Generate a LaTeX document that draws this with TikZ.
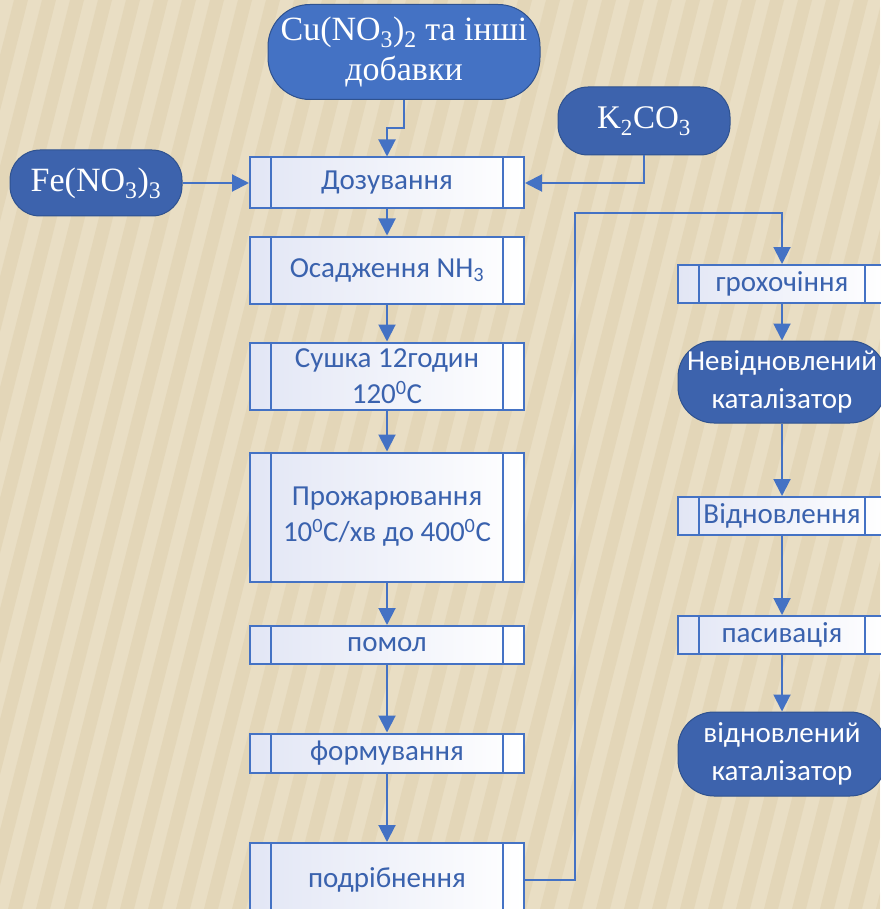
\documentclass[tikz,border=0pt]{standalone}
\usepackage{fontspec}
\setmainfont{Carlito}
\newfontfamily\timesfont{Liberation Serif}
\usetikzlibrary{arrows.meta}

\definecolor{linkblue}{HTML}{4472C4}
\definecolor{darkoval}{HTML}{3D63AD}
\definecolor{ovaledge}{HTML}{2F528F}
\definecolor{textblue}{HTML}{3A62AE}
\definecolor{paper}{HTML}{E9DEC4}
\definecolor{stripe}{HTML}{D5C29B}
\definecolor{lavender}{HTML}{E2E6F5}

\tikzset{
  procbox/.style={draw=linkblue, line width=2pt, left color=lavender, right color=white,
    text=textblue, align=center, inner sep=0pt, font=\fontsize{29}{36}\selectfont,
    path picture={
      \draw[linkblue, line width=2pt]
        ([xshift=21pt]path picture bounding box.north west) -- ([xshift=21pt]path picture bounding box.south west)
        ([xshift=-21pt]path picture bounding box.north east) -- ([xshift=-21pt]path picture bounding box.south east);}},
  leftbox/.style={procbox, minimum width=274pt},
  rightbox/.style={procbox, minimum width=208pt, minimum height=38pt},
  terminal/.style={fill=darkoval, draw=ovaledge, line width=1pt, text=white, align=center,
    inner sep=0pt, rounded corners=30pt},
  arr/.style={draw=linkblue, line width=2pt, -{Triangle[width=17pt,length=17pt]}}
}

\begin{document}
\begin{tikzpicture}[x=1pt,y=-1pt]
  \useasboundingbox (0,0) rectangle (880,909);
  % background
  \fill[paper] (0,0) rectangle (880,909);
  \begin{scope}
    \clip (0,0) rectangle (880,909);
    \foreach \x in {-300,-272,...,880}
      \fill[stripe, opacity=.28] (\x,909) -- (\x+14,909) -- (\x+244,0) -- (\x+230,0) -- cycle;
  \end{scope}

  % inputs
  \node[terminal, fill=linkblue, rounded corners=42pt, minimum width=272pt, minimum height=95pt,
    font=\timesfont\fontsize{34}{40}\selectfont] (cu) at (404,52)
    {Cu(NO\textsubscript{3})\textsubscript{2} та інші\\добавки};
  \node[terminal, minimum width=172pt, minimum height=68pt,
    font=\timesfont\fontsize{33}{36}\selectfont] (kco) at (644,121) {K\textsubscript{2}CO\textsubscript{3}};
  \node[terminal, minimum width=172pt, minimum height=66pt,
    font=\timesfont\fontsize{34}{36}\selectfont] (fe) at (96,183) {Fe(NO\textsubscript{3})\textsubscript{3}};

  % left column
  \node[leftbox, minimum height=51pt] (doz) at (387,183) {Дозування};
  \node[leftbox, minimum height=67pt] (osad) at (387,270) {Осадження NH\textsubscript{3}};
  \node[leftbox, minimum height=67pt] (sush) at (387,376) {Сушка 12годин\\120\textsuperscript{0}C};
  \node[leftbox, minimum height=129pt] (prozh) at (387,517) {Прожарювання\\10\textsuperscript{0}C/хв до 400\textsuperscript{0}C};
  \node[leftbox, minimum height=38pt] (pomol) at (387,645) {помол};
  \node[leftbox, minimum height=39pt] (form) at (387,753) {формування};
  \node[leftbox, minimum height=74pt] (podr) at (387,880) {подрібнення};

  % right column
  \node[rightbox] (grokh) at (782,284) {грохочіння};
  \node[terminal, minimum width=208pt, minimum height=82pt, rounded corners=36pt,
    font=\fontsize{29}{38}\selectfont] (nevid) at (782,382) {Невідновлений\\каталізатор};
  \node[rightbox] (vidn) at (782,516) {Відновлення};
  \node[rightbox] (pasyv) at (782,635) {пасивація};
  \node[terminal, minimum width=208pt, minimum height=84pt, rounded corners=36pt,
    font=\fontsize{29}{38}\selectfont] (vidkat) at (782,754) {відновлений\\каталізатор};

  \coordinate (turn) at (575,213);

  \draw[arr] (fe) -- (doz);
  \draw[arr] (cu.south) -- ++(0,28) -| (doz.north);
  \draw[arr] (kco.south) |- (doz.east);
  \foreach \from/\to in {doz/osad,osad/sush,sush/prozh,prozh/pomol,pomol/form,form/podr,
    grokh/nevid,nevid/vidn,vidn/pasyv,pasyv/vidkat}
    \draw[arr] (\from) -- (\to);
  \draw[arr] (podr.east) -| (turn) -| (grokh.north);
\end{tikzpicture}
\end{document}
